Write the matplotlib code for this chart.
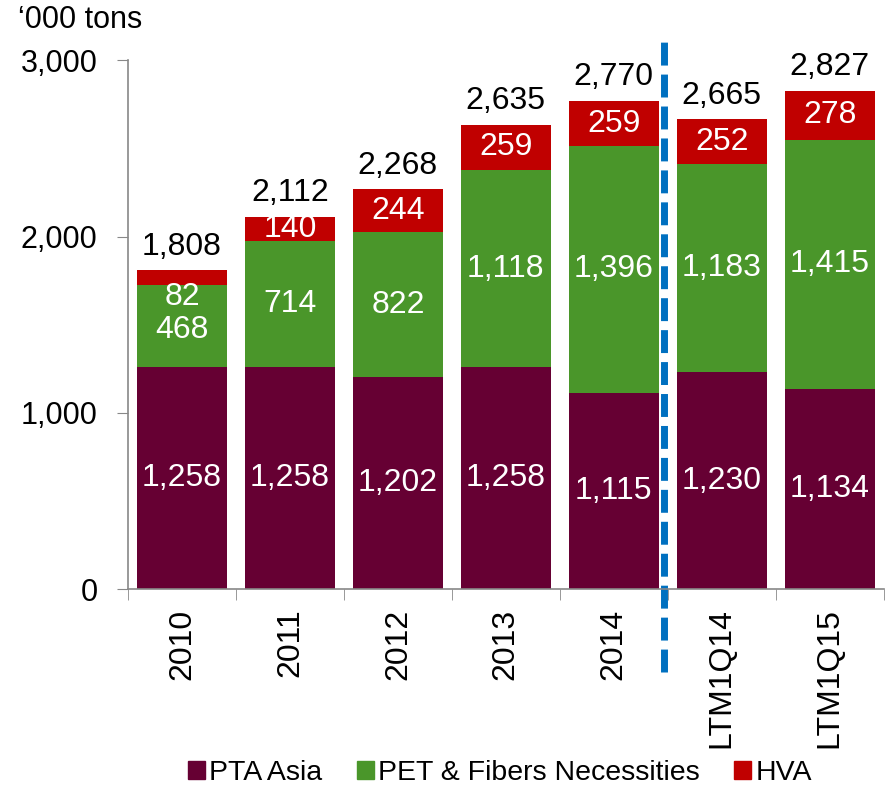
import matplotlib.pyplot as plt
import numpy as np
from matplotlib.lines import Line2D

plt.rcParams['font.family'] = ['Liberation Sans', 'DejaVu Sans']

categories = ['2010', '2011', '2012', '2013', '2014', 'LTM1Q14', 'LTM1Q15']
pta_asia = [1258, 1258, 1202, 1258, 1115, 1230, 1134]
pet_fibers = [468, 714, 822, 1118, 1396, 1183, 1415]
hva = [82, 140, 244, 259, 259, 252, 278]
totals = [1808, 2112, 2268, 2635, 2770, 2665, 2827]
series_names = ['PTA Asia', 'PET & Fibers Necessities', 'HVA']
colors = ['#660033', '#4a962a', '#c00000']

fig = plt.figure(figsize=(8.85, 7.88), dpi=100)
ax = fig.add_axes([0.1446, 0.2525, 0.854, 0.671])

x = np.arange(len(categories))
w = 0.83
lbl_size = 23
bottom = np.zeros(len(categories))
for vals, col in zip([pta_asia, pet_fibers, hva], colors):
    ax.bar(x, vals, w, bottom=bottom, color=col, edgecolor='none')
    for xi, b, v in zip(x, bottom, vals):
        if v < 100:
            # too thin: put label just under the segment
            ax.annotate(f'{v:,}', (xi, b), xytext=(0, 2), textcoords='offset points',
                        ha='center', va='top', color='white', fontsize=lbl_size)
        elif col == colors[1] and v < 500:
            ax.annotate(f'{v:,}', (xi, b + v / 2), xytext=(0, -3), textcoords='offset points',
                        ha='center', va='center', color='white', fontsize=lbl_size)
        else:
            ax.text(xi, b + v / 2, f'{v:,}', ha='center', va='center',
                    color='white', fontsize=lbl_size)
    bottom += np.array(vals)

for xi, t in zip(x, totals):
    ax.annotate(f'{t:,}', (xi, t), xytext=(0, 6), textcoords='offset points',
                ha='center', va='bottom', color='black', fontsize=lbl_size)

# separator between annual and LTM figures
ax.add_line(Line2D([4.46, 4.46], [-0.157, 1.038], transform=ax.get_xaxis_transform(),
                   color='#0070c0', lw=5, dashes=(3.3, 1.3), clip_on=False))

ax.set_xlim(-0.5, len(categories) - 0.5)
ax.set_ylim(0, 3000)
ax.set_yticks([0, 1000, 2000, 3000])
ax.set_yticklabels(['0', '1,000', '2,000', '3,000'], fontsize=22)
ax.set_xticks(x)
ax.set_xticklabels(categories, rotation=90, fontsize=23)
ax.set_xticks(np.arange(-0.5, len(categories), 1), minor=True)
ax.tick_params(axis='x', which='major', length=0, pad=14)
ax.tick_params(axis='x', which='minor', length=8, color='#888888', direction='out')
ax.tick_params(axis='y', length=8, color='#888888', direction='out', pad=14)
for s in ['top', 'right']:
    ax.spines[s].set_visible(False)
for s in ['left', 'bottom']:
    ax.spines[s].set_color('#888888')
    ax.spines[s].set_linewidth(1.2)

fig.text(0.02, 0.975, '\u2018000 tons', fontsize=22, ha='left', va='center')

handles = [plt.Rectangle((0, 0), 1, 1, color=c) for c in colors]
fig.legend(handles, series_names, loc='center', bbox_to_anchor=(0.565, 0.019), ncol=3,
           frameon=False, fontsize=20.5, handlelength=0.6, handleheight=0.6,
           handletextpad=0.15, columnspacing=1.2)

fig.savefig('out.png', dpi=100)
